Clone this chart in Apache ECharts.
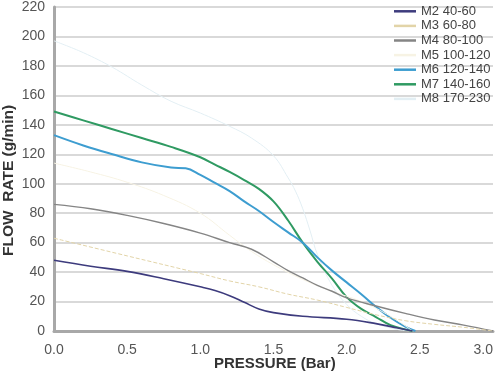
<!DOCTYPE html>
<html><head><meta charset="utf-8">
<script src="https://cdn.jsdelivr.net/npm/echarts@6/dist/echarts.min.js"></script>
<style>html,body{margin:0;padding:0;background:#fff}#c{width:497px;height:376px}</style>
</head><body><div id="c"></div>
<script>
var seriesNames = ['M2 40-60','M3 60-80','M4 80-100','M5 100-120','M6 120-140','M7 140-160','M8 170-230'];
var xTicks = [0, 0.5, 1.0, 1.5, 2.0, 2.5, 3.0];
var yTicks = [0,20,40,60,80,100,120,140,160,180,200,220];
var M2 = [[0,48],[0.25,44],[0.5,40.5],[0.75,35.5],[1.0,30],[1.1,27.5],[1.2,24],[1.3,19.5],[1.4,15],[1.5,12.5],[1.7,10],[2.0,8],[2.2,5],[2.35,2],[2.45,0]];
var M3 = [[0,63],[0.5,51],[1.0,39],[1.2,34],[1.4,30],[1.6,25],[1.8,21],[2.0,16],[2.2,11],[2.4,7],[2.6,4.5],[2.8,2.5],[3.0,0]];
var M4 = [[0,86],[0.25,83],[0.5,78.5],[0.75,73],[1.0,66.5],[1.2,60],[1.35,55.5],[1.5,47],[1.6,41],[1.7,36],[1.8,31],[1.9,27],[2.0,22.5],[2.2,17],[2.4,12],[2.6,7.5],[2.8,4],[3.0,0]];
var M5 = [[0,114],[0.25,108],[0.5,101],[0.75,92],[1.0,80],[1.2,65],[1.35,54],[1.5,45],[1.7,35],[1.9,27],[2.1,20],[2.3,10],[2.45,0]];
var M6 = [[0,133],[0.2,126],[0.4,120],[0.6,114.5],[0.8,111],[0.9,110.5],[1.0,106],[1.1,100.5],[1.2,95],[1.3,88],[1.4,81.5],[1.5,74],[1.6,67],[1.7,60],[1.8,50],[1.9,41],[2.0,33],[2.1,25],[2.2,16.5],[2.3,9],[2.4,3],[2.47,0]];
var M7 = [[0,149],[0.2,143],[0.4,137],[0.6,131],[0.8,125],[1.0,118],[1.1,113],[1.2,108],[1.3,102.5],[1.4,96.5],[1.5,88],[1.6,75],[1.7,60],[1.8,47],[1.9,35.5],[2.0,23],[2.1,15],[2.2,9.5],[2.3,4],[2.45,0]];
var M8 = [[0,197],[0.2,189],[0.4,179],[0.6,167],[0.8,156],[1.0,148],[1.2,139],[1.35,131],[1.5,119],[1.6,104],[1.65,95],[1.7,83],[1.75,68],[1.8,52],[1.9,31],[2.0,18],[2.1,10],[2.2,5],[2.35,1],[2.45,0]];
var seriesData = [M2,M3,M4,M5,M6,M7,M8];
var colors = ['#3d3b7d','#e2d4a8','#858585','#f7f3e4','#3d9dd0','#2f9a62','#e3eff4'];
var widths = [1.6,1,1.4,1,2,2,1];
var types = ['solid','dashed','solid','solid','solid','solid','solid'];

var chart = echarts.init(document.getElementById('c'), null, {renderer:'canvas'});
chart.setOption({
  animation:false,
  backgroundColor:'#fff',
  grid:{left:54,right:4,top:6,bottom:45,containLabel:false},
  legend:{
    orient:'vertical', left:389, top:-1, icon:'rect', itemWidth:22, itemHeight:2.5, itemGap:0,
    textStyle:{fontSize:13, lineHeight:14.6, color:'#444', fontFamily:'Liberation Sans, Arial, sans-serif'},
    data:seriesNames
  },
  xAxis:{
    type:'value', min:0, max:3, interval:0.5,
    axisLine:{show:true, onZero:false, lineStyle:{color:'#a8a8a8', width:3}},
    axisTick:{show:false}, splitLine:{show:false},
    axisLabel:{fontSize:14, color:'#555', margin:12, fontFamily:'Liberation Sans, Arial, sans-serif',
      formatter:function(v){return v.toFixed(1);}, alignMaxLabel:'right'}
  },
  yAxis:{
    type:'value', min:0, max:220, interval:20,
    axisLine:{show:true, lineStyle:{color:'#a8a8a8', width:3}},
    axisTick:{show:false},
    splitLine:{show:true, lineStyle:{color:'#cdcdcd', width:1.5}},
    axisLabel:{fontSize:14, color:'#555', margin:9, fontFamily:'Liberation Sans, Arial, sans-serif',
      formatter:function(v){return yTicks.indexOf(v)>=0 ? String(v) : '';}}
  },
  graphic:[
    {type:'text', left:214, top:356, style:{text:'PRESSURE (Bar)', font:'bold 15px Liberation Sans, Arial, sans-serif', fill:'#333'}},
    {type:'text', x:1, y:256, rotation:Math.PI/2, style:{text:'FLOW  RATE (g/min)', font:'bold 15.5px Liberation Sans, Arial, sans-serif', fill:'#333', textVerticalAlign:'top'}}
  ],
  series: seriesNames.map(function(n,i){
    return {name:n, type:'line', data:seriesData[i], smooth:0.4, showSymbol:false, symbol:'none',
      itemStyle:{color:colors[i]}, lineStyle:{color:colors[i], width:widths[i], type:types[i]}, z:10-i};
  })
});
</script></body></html>
